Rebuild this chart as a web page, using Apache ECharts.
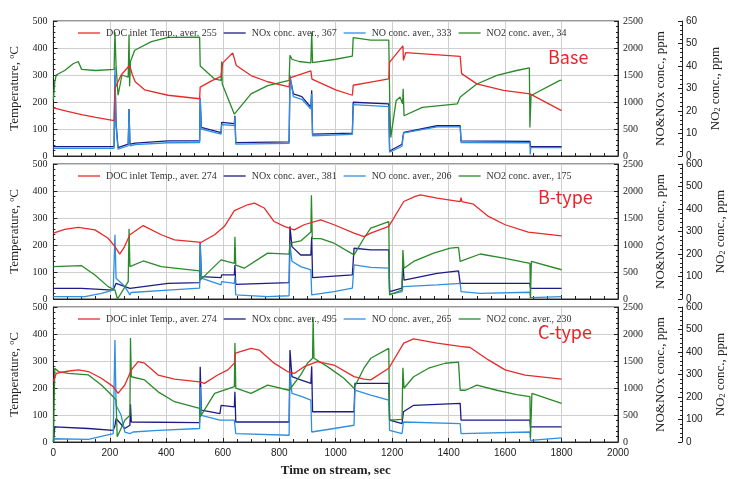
<!DOCTYPE html>
<html><head><meta charset="utf-8">
<script src="https://cdn.jsdelivr.net/npm/echarts@6/dist/echarts.min.js"></script>
<style>html,body{margin:0;padding:0;background:#fff}#c{width:739px;height:479px}</style>
</head><body><div id="c"></div>
<script>
// ---------- data (time, value) ----------
var panelLabels = ['Base', 'B-type', 'C-type'];
var legendNames = [
  ['DOC inlet Temp., aver. 255', 'NOx conc. aver., 367', 'NO conc. aver., 333', 'NO2 conc. aver., 34'],
  ['DOC inlet Temp., aver. 274', 'NOx conc. aver., 381', 'NO conc. aver., 206', 'NO2 conc. aver., 175'],
  ['DOC inlet Temp., aver. 274', 'NOx conc. aver., 495', 'NO conc. aver., 265', 'NO2 conc. aver., 230']
];
var no2Max = [60, 600, 600];
var no2Interval = [10, 100, 100];

var baseTemp = [[0,178],[50,165],[100,153],[150,143],[215,131],[218,250],[240,300],[270,336],[280,300],[290,275],[323,245],[406,225],[518,212],[520,255],[560,278],[594,295],[600,345],[635,382],[641,380],[648,335],[700,298],[759,275],[835,256],[838,289],[912,315],[916,285],[1000,245],[1059,225],[1062,262],[1124,274],[1188,286],[1191,348],[1238,408],[1240,354],[1248,383],[1441,369],[1446,305],[1500,267],[1594,243],[1688,230],[1800,168]];
var baseNOx = [[0,174],[215,174],[218,1500],[222,600],[229,155],[265,220],[268,870],[271,220],[290,240],[406,280],[518,280],[520,1057],[524,530],[594,435],[596,622],[641,600],[643,745],[646,249],[835,260],[838,1462],[850,1150],[880,1100],[912,902],[915,1215],[918,404],[1059,425],[1062,995],[1188,965],[1191,93],[1235,218],[1238,350],[1241,435],[1359,560],[1441,560],[1444,280],[1688,270],[1690,174],[1800,174]];
var baseNO = [[0,143],[215,143],[218,1650],[222,550],[229,125],[265,190],[268,850],[271,190],[290,210],[406,245],[518,249],[520,1080],[524,500],[594,405],[596,580],[641,565],[643,720],[646,220],[835,235],[838,1500],[850,1100],[880,1050],[912,870],[915,1150],[918,375],[1059,400],[1062,950],[1188,915],[1191,70],[1235,180],[1238,330],[1241,430],[1359,540],[1441,540],[1444,250],[1688,245],[1689,30],[1691,155],[1800,155]];
var baseNO2 = [[0,25],[5,33],[10,36],[40,38],[70,41],[88,42],[100,38.5],[150,38],[215,38.5],[218,55],[222,40],[229,27],[243,36],[265,35],[268,54],[270,31],[273,42],[288,47],[347,50.8],[406,52.7],[518,52.8],[520,40],[570,34.3],[594,33.6],[596,42],[598,32],[641,18.6],[700,27.6],[759,31.3],[835,33.6],[838,44.8],[845,43],[870,42],[912,41.4],[915,55],[918,41.5],[1000,43],[1059,44.4],[1062,52.6],[1124,51.5],[1188,51.5],[1192,20],[1195,8.2],[1214,24.6],[1228,26.2],[1237,23.2],[1239,29.9],[1242,17.9],[1307,21.6],[1431,23.2],[1441,26.2],[1500,32],[1571,35.8],[1641,38],[1686,39.2],[1688,12.7],[1692,26.9],[1794,33.6],[1800,33.6]];

var bTemp = [[0,244],[40,258],[88,265],[147,256],[194,225],[218,194],[235,166],[250,190],[271,238],[318,272],[382,238],[429,219],[524,210],[571,238],[606,269],[641,327],[688,349],[712,355],[747,337],[782,287],[818,269],[853,256],[888,275],[947,293],[994,275],[1065,244],[1100,231],[1124,244],[1188,269],[1241,361],[1282,380],[1300,386],[1359,374],[1441,361],[1444,375],[1447,361],[1488,351],[1541,306],[1600,275],[1682,248],[1800,234]];
var bNOx = [[0,198],[100,195],[212,165],[218,180],[222,290],[271,198],[275,230],[278,228],[406,290],[518,305],[520,1050],[524,415],[594,395],[596,445],[641,445],[643,630],[646,270],[835,305],[838,1345],[845,970],[876,815],[912,815],[915,1150],[918,395],[1059,445],[1065,940],[1124,910],[1188,910],[1191,135],[1235,200],[1238,700],[1242,350],[1359,475],[1435,520],[1441,290],[1688,290],[1690,198],[1800,198]];
var bNO = [[0,43],[112,45],[170,105],[212,165],[218,1190],[222,385],[253,230],[271,75],[275,120],[278,105],[406,165],[518,200],[520,1030],[524,385],[594,260],[596,320],[641,290],[643,400],[646,75],[759,45],[835,60],[838,1000],[845,700],[876,600],[912,540],[915,75],[994,135],[1059,200],[1065,630],[1124,585],[1188,570],[1191,85],[1235,135],[1238,230],[1359,260],[1441,290],[1444,135],[1512,105],[1688,125],[1690,25],[1800,45]];
var bNO2 = [[0,144],[100,148],[147,107],[194,55],[218,40],[227,0],[265,77],[268,312],[271,144],[318,169],[382,144],[518,125],[520,84],[594,174],[641,158],[643,277],[646,151],[676,137],[759,204],[835,199],[838,248],[876,258],[912,298],[914,461],[917,268],[947,268],[994,248],[1065,196],[1100,270],[1124,315],[1188,344],[1191,18],[1235,40],[1238,218],[1242,137],[1276,167],[1347,204],[1406,226],[1435,229],[1441,167],[1512,200],[1600,181],[1688,158],[1690,5],[1693,167],[1800,130]];

var cTemp = [[0,225],[10,254],[50,262],[88,267],[124,261],[170,236],[212,205],[229,180],[253,211],[276,267],[300,298],[323,292],[371,248],[429,233],[518,223],[535,217],[582,248],[618,267],[641,292],[645,329],[700,347],[730,340],[782,292],[829,261],[853,254],[888,279],[935,298],[994,285],[1065,242],[1100,233],[1124,230],[1188,273],[1241,366],[1276,382],[1359,366],[1441,354],[1476,350],[1541,304],[1600,267],[1671,248],[1800,233]];
var cNOx = [[0,0],[5,280],[124,250],[212,215],[218,300],[222,435],[253,250],[271,310],[273,700],[276,370],[282,360],[518,360],[520,1395],[524,590],[590,525],[594,680],[641,650],[643,930],[646,370],[835,370],[838,1705],[845,1210],[876,1150],[912,1085],[915,1400],[918,560],[1065,560],[1068,1085],[1188,1085],[1191,405],[1235,340],[1240,560],[1276,680],[1441,715],[1444,405],[1688,405],[1690,280],[1800,280]];
var cNO = [[0,0],[5,60],[124,50],[170,105],[212,155],[218,1890],[222,680],[240,495],[253,185],[271,155],[282,185],[371,215],[518,250],[520,1020],[524,495],[590,405],[594,435],[641,405],[646,155],[835,125],[838,1305],[845,900],[876,850],[912,775],[915,185],[994,250],[1065,310],[1068,960],[1124,870],[1188,775],[1191,215],[1235,155],[1240,370],[1441,340],[1444,155],[1688,185],[1690,30],[1800,75]];
var cNO2 = [[0,0],[5,328],[18,313],[53,305],[124,298],[170,253],[206,209],[222,186],[226,23],[253,97],[271,119],[273,462],[276,290],[282,290],[323,276],[371,223],[429,179],[518,149],[520,112],[571,216],[641,246],[643,440],[646,239],[700,216],[759,253],[835,230],[876,298],[900,350],[918,372],[920,550],[923,372],[971,335],[1029,283],[1065,239],[1070,253],[1100,328],[1124,372],[1188,416],[1191,97],[1235,101],[1238,330],[1242,239],[1276,290],[1329,328],[1388,350],[1435,355],[1441,230],[1460,230],[1500,253],[1571,230],[1641,211],[1688,202],[1690,19],[1695,216],[1800,172]];

var panelData = [[baseTemp, baseNOx, baseNO, baseNO2],[bTemp, bNOx, bNO, bNO2],[cTemp, cNOx, cNO, cNO2]];
var colors = ['#e82a2a', '#1c1c86', '#2f8fe0', '#2a8a2a'];

// ---------- layout ----------
var tops = [21, 164, 307];
var H = 135;
var serif = 'Liberation Serif';
function plain(v) { return String(v); }
var chart = echarts.init(document.getElementById('c'), null, {renderer: 'canvas'});
var grids = [], xAxes = [], yAxes = [], series = [], legends = [], titles = [];

for (var p = 0; p < 3; p++) {
  grids.push({left: 52, right: 121, top: tops[p], height: H, show: true, borderColor: '#333', borderWidth: 1, containLabel: false});
  var last = (p === 2);
  xAxes.push({
    type: 'value', gridIndex: p, min: 0, max: 2000, interval: 200,
    axisLine: {show: true, lineStyle: {color: '#222'}},
    axisTick: {show: true, inside: true, length: 4, lineStyle: {color: '#222'}},
    minorTick: {show: true, splitNumber: 4, length: 3, lineStyle: {color: '#222'}},
    splitLine: {show: true, lineStyle: {color: '#cfcfcf', width: 1}},
    axisLabel: {show: last, fontFamily: 'Liberation Sans', fontSize: 10, color: '#222', margin: 6, formatter: plain},
    name: last ? 'Time on stream, sec' : '', nameLocation: 'middle', nameGap: 22,
    nameTextStyle: {fontFamily: serif, fontSize: 13, fontWeight: 'bold', color: '#222'}
  });
  yAxes.push({
    type: 'value', gridIndex: p, min: 0, max: 500, interval: 100, position: 'left',
    axisLine: {show: true, lineStyle: {color: '#222'}},
    axisTick: {show: true, inside: true, length: 4, lineStyle: {color: '#222'}},
    minorTick: {show: true, splitNumber: 5, length: 2, lineStyle: {color: '#222'}},
    splitLine: {show: true, lineStyle: {color: '#cfcfcf'}},
    axisLabel: {fontFamily: serif, fontSize: 10, color: '#222', margin: 6, formatter: plain},
    name: 'Temperature, {sup|o}C', nameLocation: 'middle', nameGap: 27, nameRotate: 90,
    nameTextStyle: {fontFamily: serif, fontSize: 13, color: '#222', rich: {sup: {fontFamily: serif, fontSize: 8, verticalAlign: 'top', color: '#222', padding: [0,0,6,0]}}}
  });
  yAxes.push({
    type: 'value', gridIndex: p, min: 0, max: 2500, interval: 500, position: 'right',
    axisLine: {show: true, lineStyle: {color: '#222'}},
    axisTick: {show: true, inside: true, length: 4, lineStyle: {color: '#222'}},
    minorTick: {show: true, splitNumber: 5, length: 2, lineStyle: {color: '#222'}},
    splitLine: {show: false},
    axisLabel: {fontFamily: serif, fontSize: 10, color: '#222', margin: 5, formatter: plain},
    name: 'NO&NOx conc., ppm', nameLocation: 'middle', nameGap: 36, nameRotate: 90,
    nameTextStyle: {fontFamily: serif, fontSize: 13, color: '#222'}
  });
  yAxes.push({
    type: 'value', gridIndex: p, min: 0, max: no2Max[p], interval: no2Interval[p], position: 'right', offset: 64,
    axisLine: {show: true, lineStyle: {color: '#222'}},
    axisTick: {show: true, inside: true, length: 4, lineStyle: {color: '#222'}},
    minorTick: {show: true, splitNumber: 5, length: 2, lineStyle: {color: '#222'}},
    splitLine: {show: false},
    axisLabel: {fontFamily: 'Liberation Sans', fontSize: 10, color: '#222', margin: 4, formatter: plain},
    name: 'NO{sub|2} conc., ppm', nameLocation: 'middle', nameGap: 27, nameRotate: 90,
    nameTextStyle: {fontFamily: serif, fontSize: 13, color: '#222', rich: {sub: {fontFamily: serif, fontSize: 8, verticalAlign: 'bottom', color: '#222'}}}
  });
  for (var k = 0; k < 4; k++) {
    series.push({
      type: 'line', name: legendNames[p][k], xAxisIndex: p, yAxisIndex: p * 3 + (k === 0 ? 0 : (k === 3 ? 2 : 1)),
      data: panelData[p][k], symbol: 'none', showSymbol: false, smooth: false,
      lineStyle: {width: 1.3, color: colors[k]}, itemStyle: {color: colors[k]}, z: k === 0 ? 5 : 3
    });
  }
  legends.push({
    data: legendNames[p].map(function (n, i) { return {name: n, icon: 'rect', itemStyle: {color: colors[i]}}; }),
    left: 78, top: tops[p] + 7, itemWidth: 22, itemHeight: 1.3, itemGap: 7,
    textStyle: {fontFamily: serif, fontSize: 10, color: '#333', padding: [0, 0, 0, 1]}, selectedMode: false, padding: 0
  });
  titles.push({text: panelLabels[p], left: p === 0 ? 548 : 538, top: [48, 188, 323][p], padding: 0,
    textStyle: {fontFamily: 'Noto Sans CJK KR', fontSize: 18, fontWeight: 'normal', color: '#e8262a'}});
}

chart.setOption({
  animation: false,
  backgroundColor: '#fff',
  title: titles,
  legend: legends,
  grid: grids,
  xAxis: xAxes,
  yAxis: yAxes,
  series: series
});
</script></body></html>
